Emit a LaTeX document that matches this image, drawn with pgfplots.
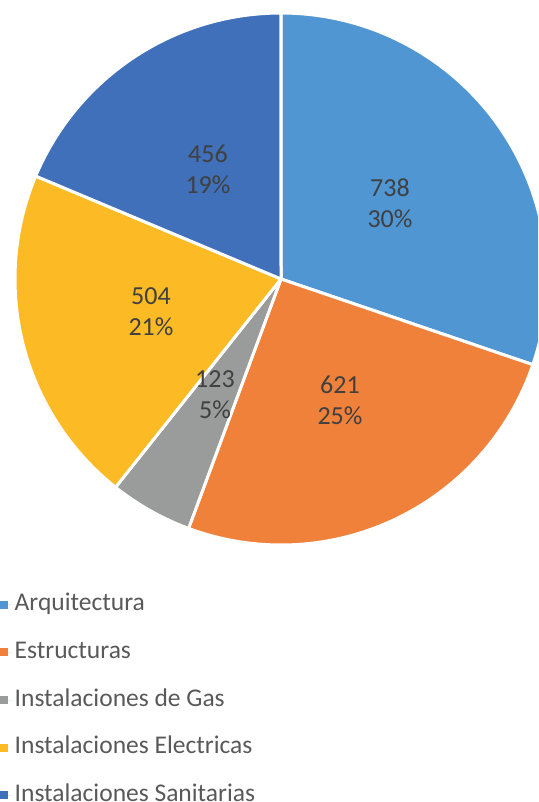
\documentclass[border=0pt]{standalone}
\usepackage{pgfplots}
\pgfplotsset{compat=1.18}
\usepackage{pgfplotstable}
\usepackage{fontspec}
\setmainfont{Carlito}

\definecolor{cA}{HTML}{4F96D2}
\definecolor{cE}{HTML}{F0813A}
\definecolor{cG}{HTML}{9A9C9C}
\definecolor{cIE}{HTML}{FCBA24}
\definecolor{cIS}{HTML}{3F70B9}
\definecolor{lbl}{HTML}{404040}
\definecolor{leg}{HTML}{595959}

\pgfplotstableread{
key value
A 738
E 621
G 123
IE 504
IS 456
}\piedata

\pgfplotstablegetelem{0}{value}\of\piedata \let\vA\pgfplotsretval
\pgfplotstablegetelem{1}{value}\of\piedata \let\vE\pgfplotsretval
\pgfplotstablegetelem{2}{value}\of\piedata \let\vG\pgfplotsretval
\pgfplotstablegetelem{3}{value}\of\piedata \let\vIE\pgfplotsretval
\pgfplotstablegetelem{4}{value}\of\piedata \let\vIS\pgfplotsretval
\pgfmathsetmacro\tot{\vA+\vE+\vG+\vIE+\vIS}
\pgfmathsetmacro\aZero{90}
\pgfmathsetmacro\aOne{\aZero-360*(\vA/\tot)}
\pgfmathsetmacro\aTwo{\aOne-360*(\vE/\tot)}
\pgfmathsetmacro\aThree{\aTwo-360*(\vG/\tot)}
\pgfmathsetmacro\aFour{\aThree-360*(\vIE/\tot)}
\pgfmathsetmacro\aFive{\aFour-360*(\vIS/\tot)}
\def\R{266}

\begin{document}
\begin{tikzpicture}
\begin{axis}[
  name=pie,
  scale only axis, width=538pt, height=802pt,
  xmin=-281, xmax=257, ymin=-523, ymax=279,
  hide axis, clip=true,
  samples=120,
  every axis plot/.append style={draw=white, line width=3pt, line join=round},
  legend image code/.code={\fill[#1, draw=none] (0pt,-4pt) rectangle (8pt,4pt); \path[draw=none] (0pt,0pt) -- (13pt,0pt);},
  legend cell align=left,
  legend style={draw=none, fill=none, at={(axis cs:-281,-312)}, anchor=north west,
    font=\fontsize{25.5}{30}\selectfont, text=leg, inner sep=0pt, row sep=20.7pt,
    nodes={inner sep=1.5pt, text height=18pt, text depth=6pt},
    /tikz/every even column/.append style={column sep=0pt}},
]
\addplot[fill=cA, domain=\aOne:\aZero] ({\R*cos(x)},{\R*sin(x)}) -- (axis cs:0,0) -- cycle;
\addlegendentry{Arquitectura}
\addplot[fill=cE, domain=\aTwo:\aOne] ({\R*cos(x)},{\R*sin(x)}) -- (axis cs:0,0) -- cycle;
\addlegendentry{Estructuras}
\addplot[fill=cG, domain=\aThree:\aTwo] ({\R*cos(x)},{\R*sin(x)}) -- (axis cs:0,0) -- cycle;
\addlegendentry{Instalaciones de Gas}
\addplot[fill=cIE, domain=\aFour:\aThree] ({\R*cos(x)},{\R*sin(x)}) -- (axis cs:0,0) -- cycle;
\addlegendentry{Instalaciones Electricas}
\addplot[fill=cIS, domain=\aFive:\aFour] ({\R*cos(x)},{\R*sin(x)}) -- (axis cs:0,0) -- cycle;
\addlegendentry{Instalaciones Sanitarias}

\begin{scope}[every node/.style={align=center, text=lbl, font=\fontsize{26}{31}\selectfont}]
\node at (axis cs:109,76) {738\\30\%};
\node at (axis cs:59,-121) {621\\25\%};
\node at (axis cs:-66,-116) {123\\5\%};
\node at (axis cs:-130,-33) {504\\21\%};
\node at (axis cs:-73,110) {456\\19\%};
\end{scope}
\end{axis}
\pgfresetboundingbox
\useasboundingbox (pie.south west) rectangle (pie.north east);
\end{tikzpicture}
\end{document}
